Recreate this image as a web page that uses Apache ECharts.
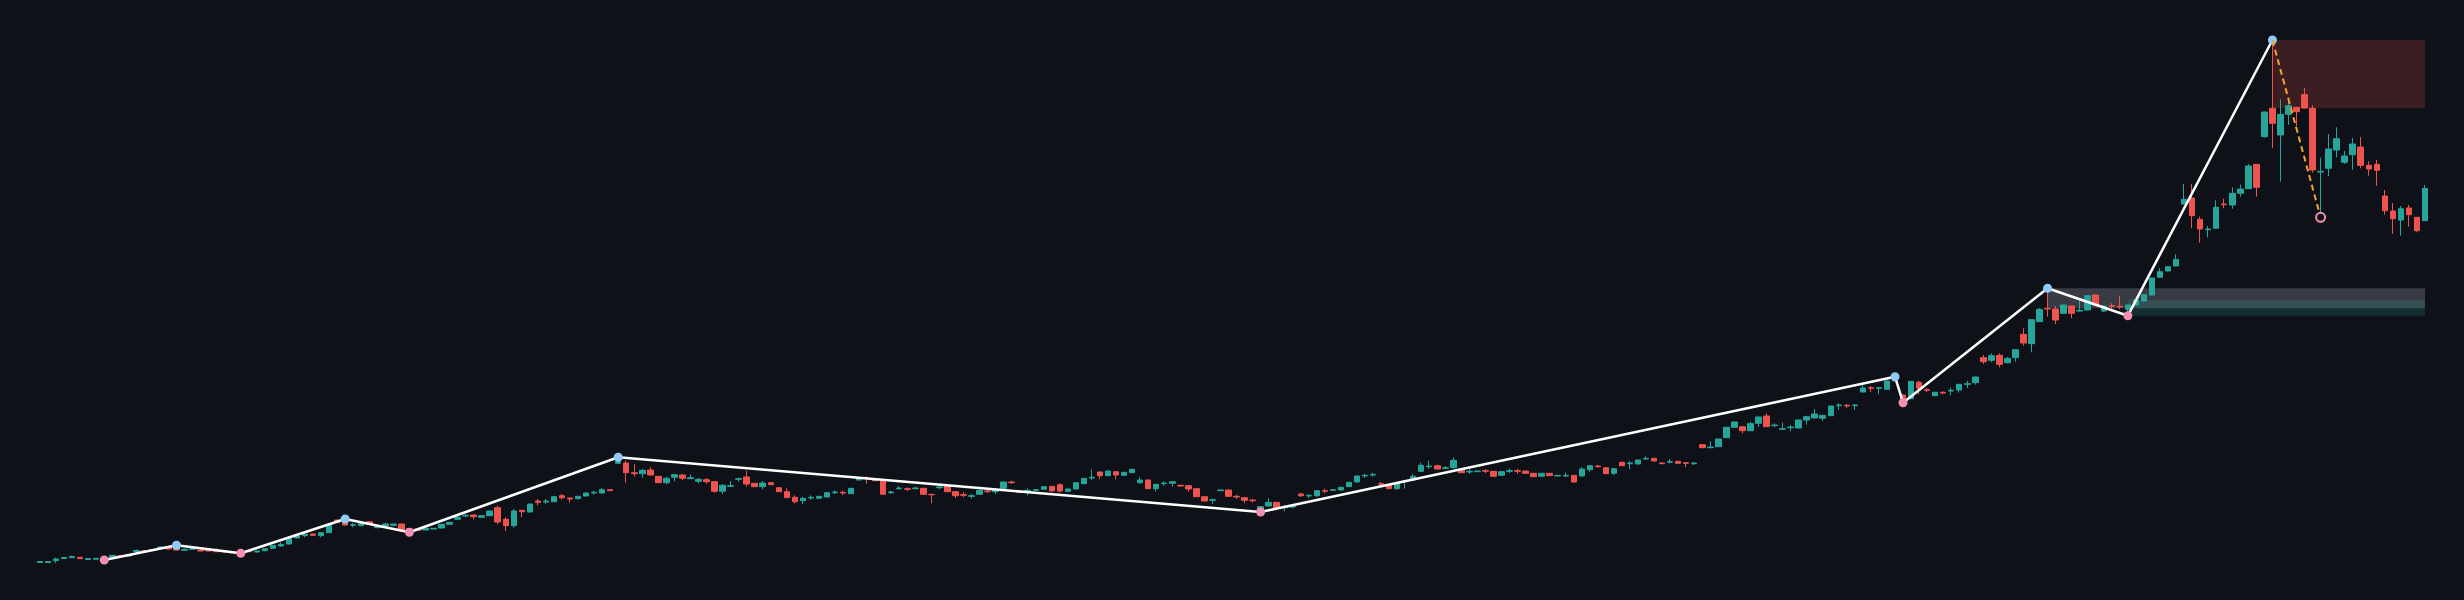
<!DOCTYPE html>
<html><head><meta charset="utf-8">
<script src="https://cdn.jsdelivr.net/npm/echarts@6/dist/echarts.min.js"></script>
<style>html,body{margin:0;padding:0;background:#0e1117;}#c{width:2464px;height:600px;}</style>
</head><body><div id="c"></div>
<script>
const opens = [
37.5,37.5,39.3,41.5,42.3,42.7,40.5,40.8,41,42.7,
44.3,44,48.5,49.3,49.5,52,52.7,53.3,49.7,50.7,
50,50,50,49,48,47.3,49.3,48,49.3,51.7,
54,56,62,64.3,66,64.3,67.3,80,80,74.7,
74.3,78.3,72.3,74,74.7,76,71.3,71,70,71,
72,75.7,80.7,84,85,82.7,84.3,92.3,80.7,74.3,
89.7,88,99,98,98.3,104.3,102,101.3,104,107,
107,110.3,136.7,137,127.3,126.3,130,123.7,117.3,122.7,
125,121.3,118.7,120.3,118.3,108.7,113.7,120.7,123,116.7,
113.3,117.3,112.3,108.3,102.7,99.3,102,101.7,103,107.3,
107.7,106.3,120,122,121,119.3,107.3,111.3,111.3,111.3,
111.7,105.7,112.3,114,108.3,105.3,103.7,105.7,109,108.3,
111.7,118,109,109,109.7,110.7,113.7,115.3,108.7,111,
116.3,122,128,124.3,128.3,124.7,127.3,117.3,120,111.3,
116.3,116.7,114.7,114.3,111.3,103.3,99.7,109.3,110,103.7,
102.3,100,90,94,97.7,92.3,93,106,104,104.3,
109.3,109.7,110,113.3,118,124,125,116.3,114.7,111.3,
118.3,120,128.7,133.3,134.3,131.7,132.3,130.3,128,128.3,
129.3,128.7,124.7,128.7,129.3,129,126.7,123.7,126.7,124,
124,124.7,124,130.3,134,132.3,126.7,137.7,136.3,136,
141,141.7,137,137.7,138.7,137.3,136.3,155.3,152.3,153.3,
162.3,172.7,173.3,169.3,176.7,184,174.3,170.7,172.3,172,
180,182,181.7,184.3,194.3,194.7,194.3,208,212.3,211.7,
210.7,219,205,201.3,217.7,210.3,204.3,207.7,209,210,
215.7,217.3,242.3,239.7,244.7,237.3,242.3,265.7,256.3,278.3,
291.7,291,286.7,294,289,290,305,289,294.3,293.7,
290.7,295,299,305,322.7,329,334,396,402,380.7,
370.3,371.7,396,395,406.7,411.3,435.7,463.3,491.7,465,
485.7,492.7,505.3,491.7,428,431.7,450,437.7,445.3,453,
434.7,435.7,404,389,380,392,382.7,379.3];
const closes = [
38.5,38.5,41,42.5,43.5,41.3,41.5,41.7,42,44.7,
43.3,45,49.5,48.3,50.5,53,51,50,50.7,51.7,
49,49,48.3,48,47.2,48.3,48.3,49,51.3,54.7,
55.7,61.3,64,65.7,64.7,67.3,74.7,77.7,75,75.3,
76.7,76.7,74,76,76,70,68.7,69.7,71.7,71.7,
75.7,77.7,82.7,84.7,83.3,84.3,89,78,74.3,89,
88.3,96,97.7,99,103.3,102.3,101,103.7,107,107.7,
110.3,109.3,138.3,127.3,126.3,129.7,125,117.3,121.7,125.3,
121.7,122.3,120.7,118.3,108.7,114.7,114.3,121.3,116,113.3,
117,115.3,108.3,102.3,98.3,101.7,102.7,103.7,107.3,108,
107,111.7,121.7,121.3,119.3,105.7,108,112,110.7,112,
105.7,105.2,113,108.3,104.3,104.7,104.3,109.7,108.3,110.7,
118,117.3,107.7,109.7,110.3,113.3,109,109,111,117.3,
121.7,122.7,124.3,129,125,127.7,130.7,120,111.3,115.7,
117,118.3,114,111,103.3,99,100.3,110,103.7,103,
99.7,99.3,93.3,97.7,92.3,93,93.7,104.3,104.7,109.3,
108.7,110.3,112.7,117.7,124,124.7,125.7,115.7,111.3,116.7,
119,123.7,134.7,134,131,132.3,139.7,127.3,128.7,129,
128.7,123.7,128.3,129.3,128.7,126.7,123.3,126.7,124.3,124.7,
124.7,118,131,134.3,133.3,126.3,131.3,134.3,137,140,
141.7,139,136.3,138.3,136.7,136.7,137,152.3,153,161,
172.7,178,169.3,176.3,183,173.3,175,171.3,173,180,
183.3,186,184.7,194,195,194,195,212,211.7,212.3,
219,222,201,218.7,211.7,209.7,207.7,207,209.7,215.7,
216.3,223,238.3,244.3,235.7,241.7,250.3,257,280.3,290.7,
291,280,295,286.7,289.7,304.3,295,294,293.7,293,
295,300,305.3,322,328.3,333.3,340.7,400.7,384.3,371,
371,392.7,395.3,406.7,411,434,412.7,488,476.7,485.7,
494.3,488.3,492,430,428.7,451,461.3,444,456,434.7,
431,429.7,389.3,381.3,391.3,385.3,369.3,411.7];
const lows = [
37,37.5,37,41,42,41,40.5,40.5,40,42.5,
43,43.5,48,48,49,51.5,50.5,49.5,49,50.3,
48.7,48.7,48,47.7,47,46.7,48,47.5,48.7,51.3,
53.3,55.7,61.7,62.7,64.5,62.7,67,77.3,74.7,72.7,
74,76.3,72,73.7,74.3,69.7,67.7,69.3,69.7,70.7,
71.7,75.3,80,82.7,80.7,82.3,84,75.7,69,72.3,
82.7,87.7,94.7,96.3,98,100.3,97.3,100.7,103.7,105.3,
106.7,109,136.3,117.3,123.3,122.3,124.7,117,115.7,118.7,
120,121,116.7,116.3,107.3,106,112.7,118.3,113.3,113,
110.7,114.7,108,102,96.7,95.7,100.3,101,102.7,106,
105,106,119.7,116.3,119,105.3,106,110.3,109,110.7,
105.3,96.7,110.7,108,102,102.7,101.3,105.3,107,105.7,
111.3,116,107.3,104.7,109.3,110.3,108.7,107.3,108.3,110.7,
116,119.7,121,124,120.7,124.3,127,116.3,111,108.3,
114.3,113.3,113.3,108.3,103,98.7,96,109,103.3,101,
96.7,97.3,88,93.7,92,88.7,91.7,103,101.7,103,
106.7,109.3,109.7,113,117.7,122,123.3,114,111,110.3,
111.3,119.7,128,131,130.7,131,131.7,127,126,128,
126.7,123.3,124.3,127,126,126.3,123,123.3,124,123.7,
123.3,117.7,123.7,128.3,132.3,126,125,134,130.7,135.7,
140.3,138.7,136,136.7,136.3,132.7,135,152,151.7,153,
162,172.3,166.7,169,173,173,172.7,170.3,168.7,171.7,
175.3,181.7,179,184,190,192,190,207.7,208,205.7,
210.3,218.7,197.3,201,205.7,208,204,205.7,204.7,207.3,
212,215.3,236,237.7,232.7,236.7,238.3,254.3,247.7,278,
283.3,276,286,281.7,288.3,289.7,294,288,290.7,290.7,
284.3,294.7,298.7,304.7,322.3,328.7,333.7,395.7,371.7,357.3,
362.7,371.3,391.7,391.3,403.3,411,403.3,462.3,452,418.3,
475,474,491.7,427.3,382.7,424,442.7,436,430.3,431.7,
424.3,414.3,385.3,366.3,364.3,373.3,367.7,379];
const highs = [
39,38.5,42.3,43,44.5,43,41.5,42,42.5,45,
44.7,45.5,50.5,49.7,51,53.5,53,54.7,51.5,52,
50.3,50.3,51.7,49.3,48.3,48.7,49.7,49.5,51.7,55,
57.7,61.7,64.3,67.3,66.3,67.7,75,80.3,81,77,
77,78.7,74.3,77.3,76.3,76.3,71.7,71.3,72,72,
76,78,84,86,85.3,84.7,89.3,94.3,82.7,91,
90,96.3,101,101,103.7,106,102.3,104,107.3,109.3,
112,110.7,142.7,139.3,136,131,133,124,123.3,125.7,
126,125.7,121.7,122,119,116,119,122.3,129.3,117,
119,118,112.7,111.7,104.7,103,104.7,104,107.7,109.7,
109.3,112,122,123.7,121.3,119.7,109.3,113.7,112.7,113.3,
112,106,114.3,114.3,108.7,108,106,110,110,111,
118.3,119.3,109.3,111.7,111,113.7,114,116.7,111.3,117.7,
122,130.7,128.3,129.3,128.7,128,131.3,123,120.3,116,
118.3,118.7,115.3,114.7,111.7,103.7,101.3,110.3,110.3,105.3,
102.7,101,94,101.7,98,94.7,95,107.3,105.7,109.7,
111.3,110.7,113,118,124.3,126.3,127.3,118,115,117,
120,126,137.3,139.3,135.3,134,142.7,130.7,131.3,129.3,
131,129,128.7,131.3,131,129.3,127,127,127,125,
127.3,125,132.7,134.7,135,132.7,131.7,138.3,139,140.3,
143.7,142,137.3,141,139,138,138,155.7,158.7,161.3,
173,178.3,173.7,178.3,183.3,186.7,176.7,177.3,175,180.3,
184.3,191,185,194.3,196.7,196,196,214.7,214,212.3,
219.3,223.3,206,219,219.3,212,208.3,208.7,212.3,216,
219.3,223.3,245,246.7,246.7,243,250.7,271.7,280.7,292,
311.7,294,295.3,294.3,299.3,304.7,305.3,294.5,296.7,304.3,
295.3,300.3,305.7,322.3,331.7,333.7,345.7,416,416,383.3,
374,399.7,401.3,412.7,415.3,436,436,488.3,560,500.7,
502.7,493,512,494.7,442.3,466,472.7,449,462,463,
438.7,440,410,397,394,395,383,415];

// zigzag pivots: bar index, price, kind
const pivotIdx   = [8, 17, 25, 38, 46, 72, 152, 231, 232, 250, 260, 278];
const pivotPrice = [40, 54.7, 46.7, 81, 67.7, 142.7, 88, 223.3, 197.3, 311.7, 284.3, 560];
const pivotKind  = ['L','H','L','H','L','H','L','H','L','H','L','H'];
// pending leg (dashed)
const pendingIdx = [278, 284];
const pendingPrice = [560, 382.7];
// zones: [startIdx, endIdx, top, bottom]
const supplyZone = [278, 297, 560, 491.7];
const greyZone   = [250, 297, 311.7, 291.7];
const demandZone = [260, 297, 300, 284.3];

const categories = opens.map((_, i) => String(i));
const candles = opens.map((o, i) => [o, closes[i], lows[i], highs[i]]);

const chart = echarts.init(document.getElementById('c'), null, {renderer: 'canvas'});
chart.setOption({
  animation: false,
  backgroundColor: '#0e1117',
  grid: {left: 36, right: 35, top: 0, bottom: 0},
  xAxis: {type: 'category', data: categories, show: false, boundaryGap: true},
  yAxis: {type: 'value', min: 0, max: 600, show: false},
  series: [
    {
      type: 'candlestick', data: candles, barWidth: 6, z: 2,
      itemStyle: {color: '#26a69a', color0: '#ef5350', borderColor: '#26a69a', borderColor0: '#ef5350', borderWidth: 1},
      markArea: {
        silent: true,
        data: [
          [{coord: [supplyZone[0], supplyZone[2]], itemStyle: {color: 'rgba(239,83,80,0.2)'}}, {coord: [supplyZone[1], supplyZone[3]]}],
          [{coord: [greyZone[0], greyZone[2]], itemStyle: {color: 'rgba(120,123,134,0.4)'}}, {coord: [greyZone[1], greyZone[3]]}],
          [{coord: [demandZone[0], demandZone[2]], itemStyle: {color: 'rgba(38,166,154,0.2)'}}, {coord: [demandZone[1], demandZone[3]]}]
        ]
      }
    },
    {
      type: 'line', z: 5, showAllSymbol: true, symbol: 'circle', symbolSize: 9,
      lineStyle: {color: '#ffffff', width: 2.5},
      data: pivotIdx.map((x, i) => ({value: [x, pivotPrice[i]], itemStyle: {color: pivotKind[i] === 'H' ? '#90caf9' : '#f48fb1'}}))
    },
    {
      type: 'line', z: 6, showAllSymbol: true,
      lineStyle: {color: '#f5a623', width: 2, type: [6, 4]},
      data: [
        {value: [pendingIdx[0], pendingPrice[0]], symbol: 'none'},
        {value: [pendingIdx[1], pendingPrice[1]], symbol: 'circle', symbolSize: 9, itemStyle: {color: '#0e1117', borderColor: '#f48fb1', borderWidth: 2}}
      ]
    }
  ]
});
</script></body></html>
